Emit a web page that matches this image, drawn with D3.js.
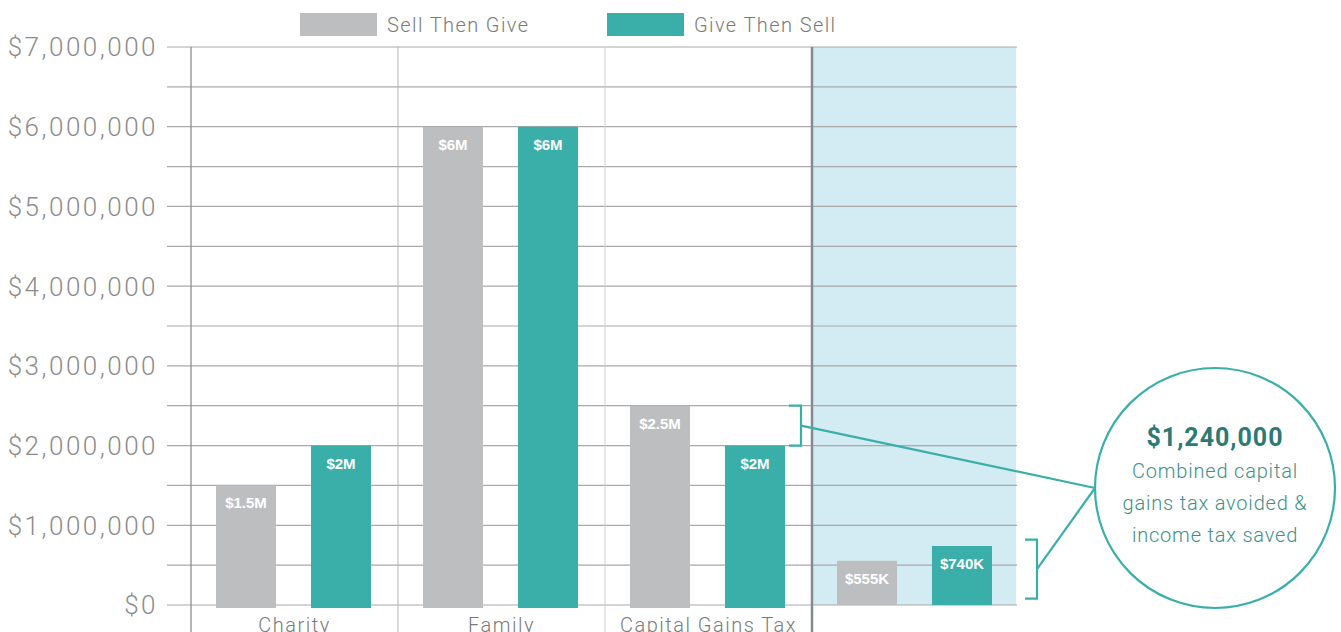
<!DOCTYPE html>
<html>
<head>
<meta charset="utf-8">
<script src="https://cdn.jsdelivr.net/npm/d3@7"></script>
<style>
  body { margin: 0; background: #fff; }
  svg { display: block; font-family: Roboto, "Open Sans", sans-serif; }
</style>
</head>
<body>
<svg id="chart" width="1341" height="632"></svg>
<script>
// data
var categories = ["Charity", "Family", "Capital Gains Tax", ""];
var seriesNames = ["Sell Then Give", "Give Then Sell"];
var sellThenGive = [1500000, 6000000, 2500000, 555000];
var giveThenSell = [2000000, 6000000, 2000000, 740000];
var sellLabels = ["$1.5M", "$6M", "$2.5M", "$555K"];
var giveLabels = ["$2M", "$6M", "$2M", "$740K"];
var yTicks = [0, 1000000, 2000000, 3000000, 4000000, 5000000, 6000000, 7000000];
var calloutTitle = "$1,240,000";
var calloutLines = ["Combined capital", "gains tax avoided &", "income tax saved"];

var colors = ["#bdbec0", "#3aafa9"];

var svg = d3.select("#chart");
var plotL = 191, plotR = 1019, plotT = 47, plotB = 605;

var x = d3.scaleBand().domain(categories.map(function(d, i) { return i; }))
    .range([plotL, plotR]);
var x1 = d3.scaleBand().domain([0, 1]).range([25, 180]).paddingInner(0.368);
var y = d3.scaleLinear().domain([0, 7000000]).range([plotB, plotT]);

// shaded "savings" column
svg.append("rect")
    .attr("x", x(3) + 1)
    .attr("y", plotT)
    .attr("width", x.bandwidth() - 4)
    .attr("height", plotB - plotT)
    .attr("fill", "#d3ebf2");

// gridlines every 500k
var grid = d3.range(0, 7000001, 500000);
svg.append("g").selectAll("line")
    .data(grid)
    .enter().append("line")
    .attr("x1", 167)
    .attr("x2", plotR - 2)
    .attr("y1", function(d) { return y(d); })
    .attr("y2", function(d) { return y(d); })
    .attr("stroke", "#a9a9a9")
    .attr("stroke-width", 1.2);

// vertical dividers
var dividers = [
  {x: plotL, color: "#8e8e8e", w: 1.3},
  {x: x(1), color: "#b5b5b5", w: 1},
  {x: x(2), color: "#d0d0d0", w: 1},
  {x: x(3), color: "#858a8e", w: 2.5}
];
svg.append("g").selectAll("line")
    .data(dividers)
    .enter().append("line")
    .attr("x1", function(d) { return d.x; })
    .attr("x2", function(d) { return d.x; })
    .attr("y1", plotT)
    .attr("y2", 632)
    .attr("stroke", function(d) { return d.color; })
    .attr("stroke-width", function(d) { return d.w; });

// y labels
svg.append("g").selectAll("text")
    .data(yTicks)
    .enter().append("text")
    .attr("x", 158)
    .attr("y", function(d) { return y(d); })
    .attr("dy", "0.36em")
    .attr("text-anchor", "end")
    .attr("fill", "#8c8c8c")
    .style("font-size", "26px")
    .style("font-weight", 300)
    .style("letter-spacing", "2.5px")
    .text(function(d) { return "$" + d3.format(",")(d); });

// bars
var series = [sellThenGive, giveThenSell];
var labels = [sellLabels, giveLabels];
series.forEach(function(vals, s) {
  var g = svg.append("g");
  g.selectAll("rect")
      .data(vals)
      .enter().append("rect")
      .attr("x", function(d, i) { return x(i) + x1(s); })
      .attr("y", function(d) { return y(d); })
      .attr("width", x1.bandwidth())
      .attr("height", function(d, i) { return y(0) - y(d) + (i < 3 ? 3 : 0); })
      .attr("fill", colors[s]);
  g.selectAll("text")
      .data(vals)
      .enter().append("text")
      .attr("x", function(d, i) { return x(i) + x1(s) + x1.bandwidth() / 2; })
      .attr("y", function(d) { return y(d) + 23; })
      .attr("text-anchor", "middle")
      .attr("fill", "#fff")
      .style("font-family", "'Liberation Sans', Arial, sans-serif")
      .style("font-size", "15px")
      .style("font-weight", "bold")
      .text(function(d, i) { return labels[s][i]; });
});

// category labels
svg.append("g").selectAll("text")
    .data(categories)
    .enter().append("text")
    .attr("x", function(d, i) { return x(i) + x.bandwidth() / 2; })
    .attr("y", 632)
    .attr("text-anchor", "middle")
    .attr("fill", "#7a7a7a")
    .style("font-size", "20px")
    .style("font-weight", 300)
    .style("letter-spacing", "1.5px")
    .text(function(d) { return d; });

// legend
var legend = svg.append("g");
var legendX = [300, 607];
seriesNames.forEach(function(name, i) {
  legend.append("rect")
      .attr("x", legendX[i]).attr("y", 13)
      .attr("width", 77).attr("height", 23)
      .attr("fill", colors[i]);
  legend.append("text")
      .attr("x", legendX[i] + 87).attr("y", 25)
      .attr("dy", "0.35em")
      .attr("fill", "#7a7a7a")
      .style("font-size", "20px")
      .style("font-weight", 300)
      .style("letter-spacing", "1.4px")
      .text(name);
});

// brackets + callout
var teal = "#3aafa9";
var ann = svg.append("g").attr("fill", "none").attr("stroke", teal).attr("stroke-width", 2.2);
var cx = 1215, cy = 488, r = 120;

function bracket(xr, v0, v1) {
  var y0 = y(v0), y1 = y(v1);
  ann.append("path")
      .attr("d", "M" + (xr - 12) + "," + y0 + "H" + xr + "V" + y1 + "H" + (xr - 12));
  var ym = (y0 + y1) / 2;
  ann.append("line")
      .attr("x1", xr).attr("y1", ym)
      .attr("x2", cx - r).attr("y2", cy);
}
bracket(801, giveThenSell[2], sellThenGive[2]);
bracket(1037, 80000, 820000);

ann.append("circle")
    .attr("cx", cx).attr("cy", cy).attr("r", r)
    .attr("fill", "#fff");

svg.append("text")
    .attr("x", cx).attr("y", 446)
    .attr("text-anchor", "middle")
    .attr("fill", "#2b7a73")
    .style("font-size", "25px")
    .style("font-weight", "bold")
    .style("letter-spacing", "1px")
    .text(calloutTitle);

svg.append("g").selectAll("text")
    .data(calloutLines)
    .enter().append("text")
    .attr("x", cx)
    .attr("y", function(d, i) { return 478 + i * 32; })
    .attr("text-anchor", "middle")
    .attr("fill", "#3f8f88")
    .style("font-size", "20px")
    .style("font-weight", 300)
    .style("letter-spacing", "0.8px")
    .text(function(d) { return d; });
</script>
</body>
</html>
